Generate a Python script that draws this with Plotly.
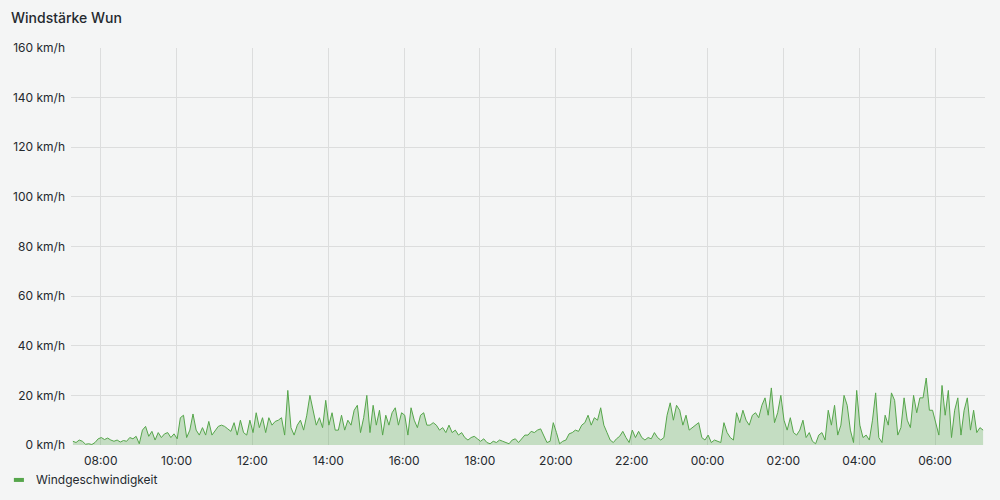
import pandas as pd
import plotly.graph_objects as go

start_time = "2024-05-01 07:16"
step = "5min"

wind_kmh = [
    1.5, 1.0, 2.0, 1.5, 0.3, 0.5, 0.2, 1.0, 2.5, 3.0, 2.2, 2.8, 2.0, 1.5, 2.0, 1.2, 1.8, 1.5, 3.0, 2.5,
    3.5, 0.5, 6.0, 7.5, 3.5, 5.5, 2.0, 5.0, 3.0, 4.5, 5.0, 3.0, 4.5, 2.5, 11.0, 12.0, 3.0, 6.0, 12.5, 6.0,
    4.0, 7.0,
    4.0, 9.5, 4.0, 6.0, 7.5, 8.0, 7.5, 6.5, 5.5, 9.0, 4.0, 10.0, 5.0, 4.0, 10.0, 5.0, 13.0, 7.0, 11.0, 5.0,
    11.0, 8.0, 9.5, 10.0, 11.0, 4.0, 22.0, 7.0, 4.0, 8.0, 10.0, 6.0, 12.0, 20.0, 14.0, 8.0, 11.0, 7.0, 18.0, 8.0,
    13.0, 6.0,
    6.0, 12.0, 6.0, 10.0, 8.0, 14.0, 16.0, 5.0, 11.0, 20.0, 5.0, 16.0, 8.0, 14.0, 4.0, 12.0, 8.0, 13.0, 15.0, 8.0,
    13.0, 12.0, 4.0, 15.0, 10.0, 7.0, 12.0, 13.0, 8.0, 8.0, 9.0, 8.0, 6.0, 7.0, 5.0, 8.0, 5.0, 6.0, 4.0, 5.0,
    3.0, 2.0,
    3.0, 3.5, 2.5, 1.5, 2.5, 1.0, 0.5, 1.5, 1.0, 2.0, 1.5, 1.0, 0.5, 2.0, 2.5, 1.0, 2.5, 4.0, 4.0, 5.5,
    5.0, 6.0, 6.5, 4.0, 1.0, 1.5, 9.0, 5.0, 0.5, 1.5, 2.0, 4.5, 5.0, 6.0, 5.5, 8.0, 9.0, 12.0, 8.0, 11.0,
    10.0,
    15.0, 8.0, 5.0, 2.0, 1.0, 2.5, 3.5, 5.5, 3.0, 1.0, 6.0, 3.0, 5.5, 3.0, 2.0, 3.0, 2.5, 5.0, 3.0, 2.0,
    3.0, 12.0, 17.0, 10.0, 16.0, 14.0, 8.0, 12.0, 6.0, 7.0, 8.0, 9.0, 3.0, 2.0, 4.0, 1.0, 2.0, 1.5, 1.0, 9.0,
    5.0, 3.0,
    2.0, 13.0, 9.0, 14.0, 10.0, 8.0, 12.0, 13.0, 11.0, 16.0, 19.0, 12.0, 23.0, 9.0, 13.0, 20.0, 10.0, 6.0, 11.0, 5.0,
    4.0, 6.0, 10.0, 3.0, 5.0, 1.5, 0.5, 4.0, 5.0, 2.0, 14.0, 8.0, 16.0, 4.0, 8.0, 20.0, 16.0, 6.0, 1.0, 22.0,
    8.0, 3.0,
    4.0, 2.0, 10.0, 21.0, 3.0, 1.0, 12.0, 8.0, 21.0, 18.0, 4.0, 7.0, 19.0, 10.0, 7.0, 20.0, 13.0, 19.0, 19.0, 27.0,
    14.0, 14.0, 9.0, 4.0, 24.0, 12.0, 22.0, 3.0, 14.0, 19.0, 4.0, 14.0, 19.0, 6.0, 14.0, 5.0, 7.0, 6.0,
]

times = pd.date_range(start=start_time, periods=len(wind_kmh), freq=step)

y_ticks = [0, 20, 40, 60, 80, 100, 120, 140, 160]
y_tick_labels = [f"{v} km/h" for v in y_ticks]

LINE = "#56a64b"
FILL = "rgba(86,166,75,0.3)"
BG = "#f4f5f5"
GRID = "#dcdddd"
TEXT = "#24292e"

fig = go.Figure()
fig.add_trace(go.Scatter(
    x=times, y=wind_kmh, mode="lines", name="Windgeschwindigkeit",
    line=dict(color=LINE, width=1), fill="tozeroy", fillcolor=FILL,
    showlegend=False,
))

fig.update_layout(
    width=1000, height=500,
    paper_bgcolor=BG, plot_bgcolor=BG,
    margin=dict(l=71, r=15, t=48, b=55),
    font=dict(family="Inter, Roboto, sans-serif", size=12, color=TEXT),
    xaxis=dict(
        range=[pd.Timestamp("2024-05-01 07:13"), pd.Timestamp("2024-05-02 07:19")],
        tickformat="%H:%M", tick0=pd.Timestamp("2024-05-01 08:00"), dtick=2 * 3600 * 1000,
        tickmode="linear",
        showgrid=True, gridcolor=GRID, gridwidth=1, zeroline=False, showline=False,
        ticks="", ticklabelstandoff=7, tickfont=dict(size=12, color=TEXT),
    ),
    yaxis=dict(
        range=[0, 160], tickvals=y_ticks, ticktext=y_tick_labels,
        showgrid=True, gridcolor=GRID, gridwidth=1, zeroline=False, showline=False,
        ticks="", ticklen=0, ticklabelstandoff=5, tickfont=dict(size=12, color=TEXT),
    ),
    annotations=[
        dict(text="Windstärke Wun", xref="paper", yref="paper",
             x=-0.068, y=1.078, xanchor="left", yanchor="middle",
             showarrow=False, font=dict(size=14, color=TEXT, family="Inter, sans-serif", weight=500)),
        dict(text="Windgeschwindigkeit", xref="paper", yref="paper",
             x=-0.041, y=-0.088, xanchor="left", yanchor="middle",
             showarrow=False, font=dict(size=12, color=TEXT)),
    ],
    shapes=[
        dict(type="line", xref="paper", yref="paper", x0=-0.0625, x1=-0.0515,
             y0=-0.088, y1=-0.088, line=dict(color=LINE, width=4)),
    ],
)

fig.write_html("out.html", config={"displayModeBar": False},
               post_script="document.body.style.margin='0px';")
